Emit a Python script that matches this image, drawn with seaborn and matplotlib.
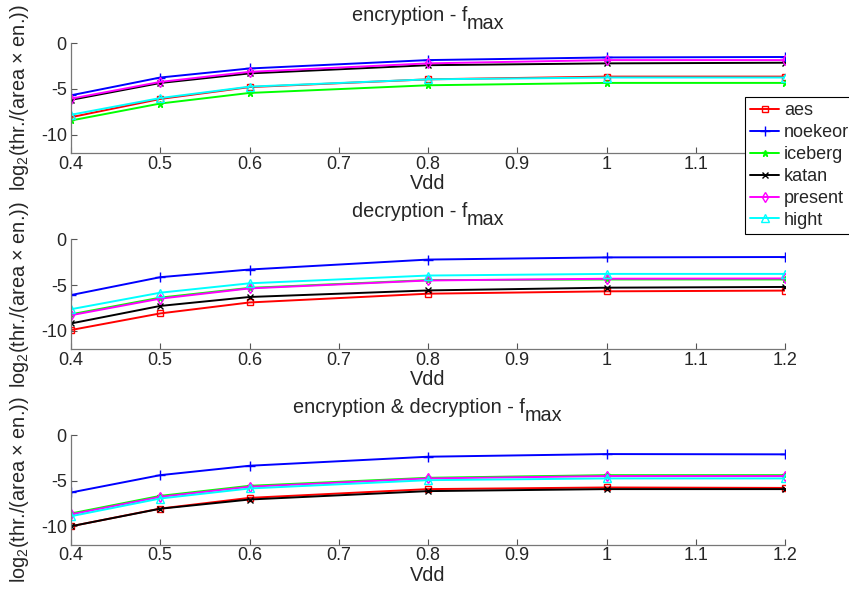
import numpy as np
import pandas as pd
import matplotlib
matplotlib.use("Agg")
import matplotlib.pyplot as plt
import seaborn as sns

vdd = [0.4, 0.5, 0.6, 0.8, 1.0, 1.2]
ciphers = ["aes", "noekeor", "iceberg", "katan", "present", "hight"]

enc = {
    "aes":     [-8.1, -6.1, -4.8, -3.95, -3.65, -3.65],
    "noekeor": [-5.7, -3.75, -2.76, -1.84, -1.55, -1.5],
    "iceberg": [-8.46, -6.6, -5.44, -4.6, -4.34, -4.34],
    "katan":   [-6.2, -4.35, -3.3, -2.4, -2.2, -2.13],
    "present": [-6.07, -4.23, -3.13, -2.2, -1.84, -1.84],
    "hight":   [-7.83, -6.0, -4.75, -3.95, -3.75, -3.75],
}
dec = {
    "aes":     [-9.92, -8.1, -6.9, -5.94, -5.68, -5.6],
    "noekeor": [-6.09, -4.13, -3.29, -2.2, -1.96, -1.92],
    "iceberg": [-8.2, -6.37, -5.3, -4.45, -4.38, -4.38],
    "katan":   [-9.2, -7.28, -6.3, -5.58, -5.28, -5.2],
    "present": [-8.3, -6.48, -5.36, -4.49, -4.3, -4.27],
    "hight":   [-7.64, -5.83, -4.8, -3.95, -3.77, -3.77],
}
encdec = {
    "aes":     [-10.0, -8.06, -6.89, -5.93, -5.75, -5.8],
    "noekeor": [-6.3, -4.4, -3.37, -2.38, -2.09, -2.12],
    "iceberg": [-8.6, -6.67, -5.57, -4.69, -4.4, -4.4],
    "katan":   [-10.0, -8.08, -7.07, -6.15, -5.93, -5.93],
    "present": [-8.7, -6.78, -5.67, -4.76, -4.5, -4.5],
    "hight":   [-8.9, -6.96, -5.86, -4.95, -4.76, -4.76],
}
title_main = ["encryption - f", "decryption - f", "encryption & decryption - f"]
title_sub = "max"
xticks = [0.4, 0.5, 0.6, 0.7, 0.8, 0.9, 1.0, 1.1, 1.2]
xticklabels = ["0.4", "0.5", "0.6", "0.7", "0.8", "0.9", "1", "1.1", "1.2"]
yticks = [0, -5, -10]
yticklabels = ["0", "-5", "-10"]

colors = {"aes": "#ff0000", "noekeor": "#0000ff", "iceberg": "#00ff00",
          "katan": "#000000", "present": "#ff00ff", "hight": "#00ffff"}
markers = {"aes": "s", "noekeor": "+", "iceberg": "*", "katan": "x",
           "present": "d", "hight": "^"}
filled = {"aes": False, "noekeor": True, "iceberg": True, "katan": True,
          "present": False, "hight": False}
msize = {"aes": 5, "noekeor": 7, "iceberg": 5, "katan": 4, "present": 5, "hight": 6}

sns.set_style("white")
plt.rcParams['font.family'] = ['Liberation Sans', 'DejaVu Sans']
plt.rcParams['mathtext.fontset'] = 'custom'
plt.rcParams['mathtext.rm'] = 'Liberation Sans'
plt.rcParams['mathtext.it'] = 'Liberation Sans'

W, H = 849, 592
fig = plt.figure(figsize=(W / 100, H / 100), dpi=100)
left = 71 / W
width = (785 - 71) / W
tops = [43.3, 239.5, 435.0]
hpx = 109.5
FS = 13
TFS = 14.3

datasets = [enc, dec, encdec]
axes = []
title_pairs = []
for i, d in enumerate(datasets):
    ax = fig.add_axes([left, 1 - (tops[i] + hpx) / H, width, hpx / H])
    axes.append(ax)
    for c in ciphers:
        df = pd.DataFrame({"Vdd": vdd, "val": d[c]})
        mfc = colors[c] if filled[c] else "none"
        sns.lineplot(data=df, x="Vdd", y="val", ax=ax, color=colors[c],
                     marker=markers[c], markersize=msize[c], markerfacecolor=mfc,
                     markeredgecolor=colors[c], markeredgewidth=1.0,
                     linewidth=1.4, label=c if i == 0 else None, legend=False)
    ax.set_xlim(0.4, 1.2)
    ax.set_ylim(-12, 0)
    ax.set_xticks(xticks)
    ax.set_xticklabels(xticklabels)
    ax.set_yticks(yticks)
    ax.set_yticklabels(yticklabels)
    ax.tick_params(direction="in", length=4, width=0.8, color="#555555",
                   labelsize=FS, left=True, bottom=True)
    ax.tick_params(axis="x", pad=2)
    ax.tick_params(axis="y", pad=3)
    for s in ["top", "right"]:
        ax.spines[s].set_visible(False)
    for s in ["left", "bottom"]:
        ax.spines[s].set_color("#777777")
        ax.spines[s].set_linewidth(0.9)
    ax.set_xlabel("Vdd", fontsize=TFS, labelpad=1)
    ax.set_ylabel("log$_2$(thr./(area $\\times$ en.))", fontsize=TFS, labelpad=7)
    ytop = 1 - tops[i] / H
    t1 = fig.text(0.5, ytop + 22 / H, title_main[i], fontsize=TFS, ha="left", va="baseline")
    t2 = fig.text(0.5, ytop + 14 / H, title_sub, fontsize=TFS, ha="left", va="baseline")
    title_pairs.append((t1, t2))

# the legend hides the last tick label of the top panel (as in the reference)
axes[0].get_xticklabels()[-1].set_visible(False)

fig.canvas.draw()
r = fig.canvas.get_renderer()
cx = (71 + 785) / 2
for t1, t2 in title_pairs:
    w1 = t1.get_window_extent(r).width
    w2 = t2.get_window_extent(r).width
    x0 = cx - (w1 + w2) / 2
    t1.set_x(x0 / W)
    t2.set_x((x0 + w1) / W)

handles, labels = axes[0].get_legend_handles_labels()
leg = fig.legend(handles, labels, loc="upper left",
                 bbox_to_anchor=(745 / W, 1 - 97 / H), fontsize=FS,
                 frameon=True, fancybox=False, edgecolor="black", framealpha=1,
                 handlelength=1.6, handletextpad=0.25, labelspacing=0.27,
                 borderpad=0.3, borderaxespad=0)
leg.get_frame().set_linewidth(0.8)

fig.savefig("out.png", dpi=100)
